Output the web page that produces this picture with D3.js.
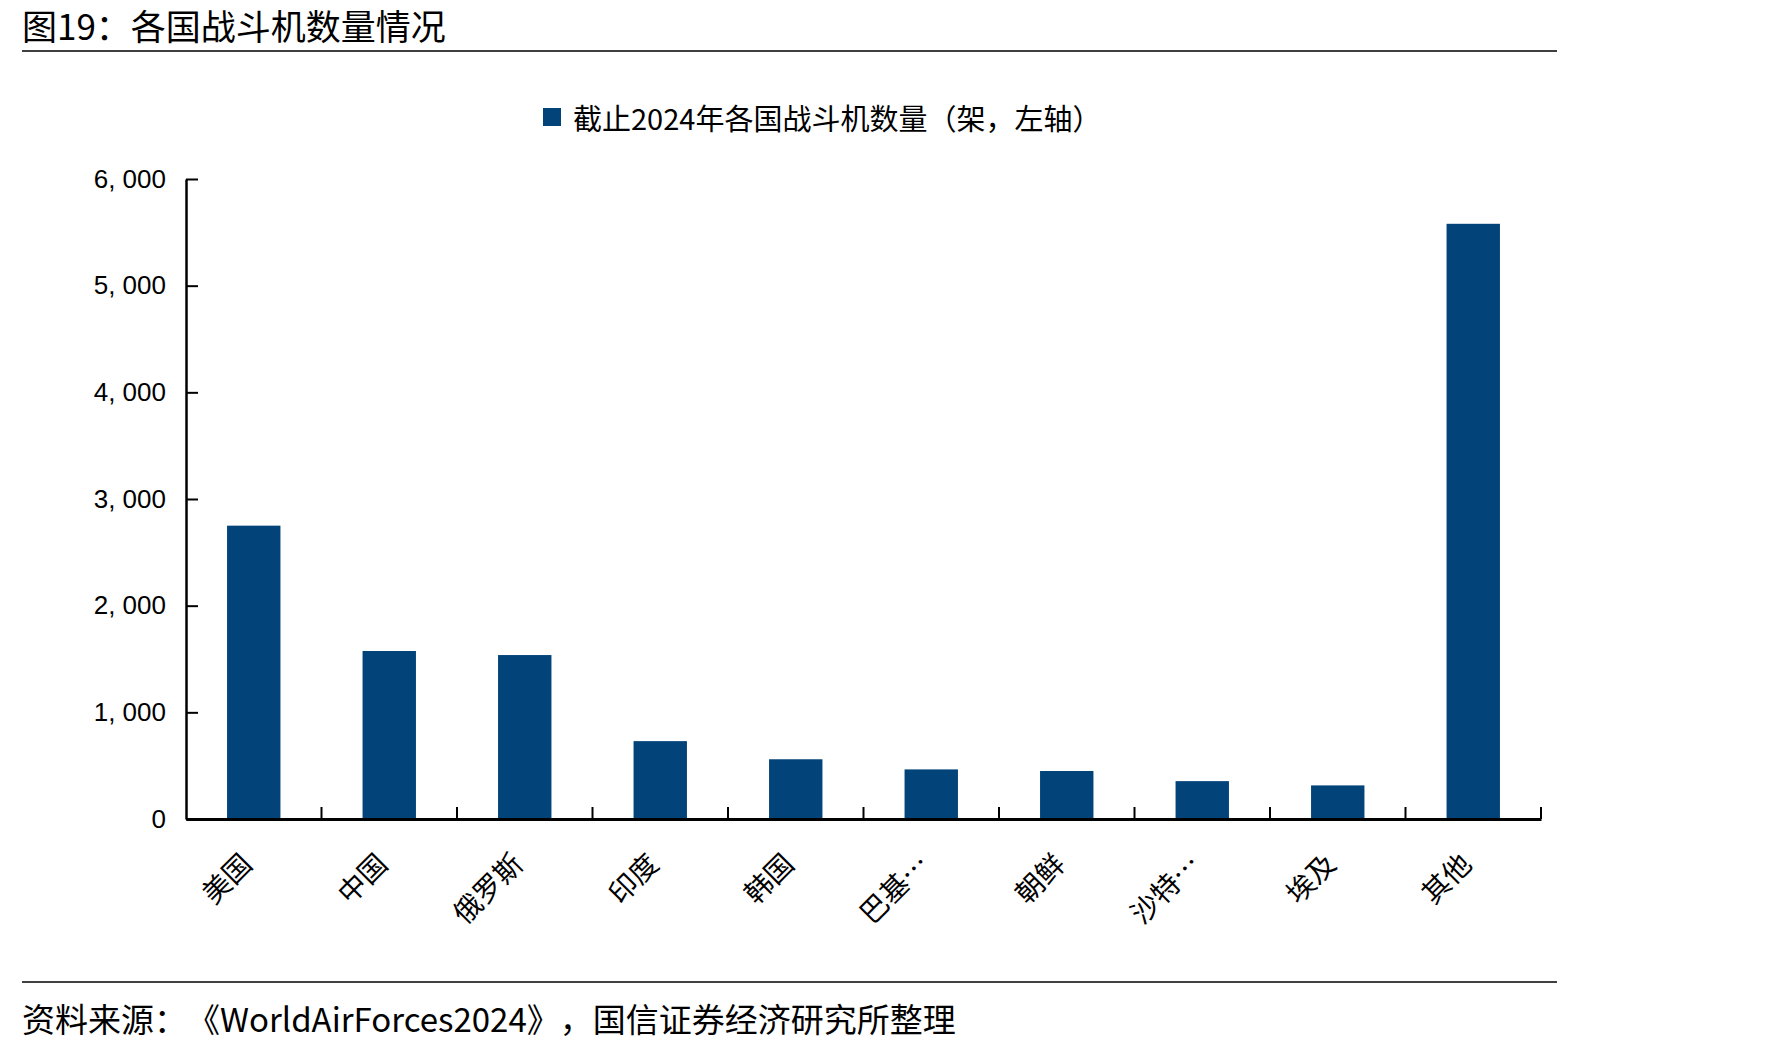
<!DOCTYPE html>
<html>
<head>
<meta charset="utf-8">
<script src="https://cdn.jsdelivr.net/npm/d3@7"></script>
<style>
    html, body { margin: 0; padding: 0; background: #fff; }
    text { font-family: "Noto Sans CJK SC", "Noto Sans", sans-serif; fill: #000; text-spacing-trim: space-all; }
    .y-axis text { font-family: "Liberation Sans", Arial, sans-serif; }
</style>
</head>
<body>
<div id="chart"></div>
<script>
// data
const categories = ["美国", "中国", "俄罗斯", "印度", "韩国", "巴基…", "朝鲜", "沙特…", "埃及", "其他"]
const fighters = [2750, 1575, 1537, 730, 560, 465, 450, 355, 315, 5580]
const yTicks = [0, 1000, 2000, 3000, 4000, 5000, 6000]

const titleText = "图19：各国战斗机数量情况"
const legendText = "截止2024年各国战斗机数量（架，左轴）"
const sourceText = "资料来源：《WorldAirForces2024》，国信证券经济研究所整理"

const config = {
    width: 1771,
    height: 1049,
    left: 186,
    right: 1541,
    top: 179,
    bottom: 819,
    barColor: "#02437a",
}

const xScale = d3.scaleBand()
    .domain(categories)
    .range([config.left, config.right])
    .paddingInner(0.606)
    .paddingOuter(0.303)

const yScale = d3.scaleLinear()
    .domain([0, 6000])
    .range([config.bottom, config.top])

const svg = d3.create("svg")
    .attr("width", config.width)
    .attr("height", config.height)
    .attr("viewBox", [0, 0, config.width, config.height])

// header + footer rules
svg.append("text")
    .attr("x", 22)
    .attr("y", 24)
    .attr("dominant-baseline", "central")
    .style("font-size", "35px")
    .text(titleText)

svg.append("line")
    .attr("x1", 22).attr("x2", 1557)
    .attr("y1", 51).attr("y2", 51)
    .attr("stroke", "#000")
    .attr("stroke-width", 1.5)

svg.append("line")
    .attr("x1", 22).attr("x2", 1557)
    .attr("y1", 982).attr("y2", 982)
    .attr("stroke", "#000")
    .attr("stroke-width", 1.5)

svg.append("text")
    .attr("x", 22)
    .attr("y", 1018)
    .attr("dominant-baseline", "central")
    .style("font-size", "33px")
    .text(sourceText)

// legend
const legend = svg.append("g").attr("transform", "translate(543,108)")
legend.append("rect")
    .attr("width", 18).attr("height", 18)
    .attr("fill", config.barColor)
legend.append("text")
    .attr("x", 30)
    .attr("y", 9)
    .attr("dominant-baseline", "central")
    .style("font-size", "29px")
    .text(legendText)

// bars
svg.append("g")
    .selectAll("rect")
    .data(fighters)
    .join("rect")
    .attr("x", (d, i) => xScale(categories[i]))
    .attr("width", xScale.bandwidth())
    .attr("y", d => yScale(d))
    .attr("height", d => yScale(0) - yScale(d))
    .attr("fill", config.barColor)

// y axis, ticks point inward
const yAxis = svg.append("g")
    .classed("y-axis", true)
    .attr("transform", `translate(${config.left},0)`)
    .call(d3.axisLeft(yScale)
        .tickValues(yTicks)
        .tickSizeInner(-12)
        .tickSizeOuter(0)
        .tickPadding(20)
        .tickFormat(d => d3.format(",")(d).replace(",", ", ")))
yAxis.select(".domain").attr("stroke-width", 2.5)
yAxis.selectAll(".tick line").attr("stroke-width", 2)
yAxis.selectAll("text").style("font-size", "26px")

// x axis, labels rotated
const xAxis = svg.append("g")
    .classed("x-axis", true)
    .attr("transform", `translate(0,${config.bottom})`)
    .call(d3.axisBottom(xScale).tickSize(0))
xAxis.select(".domain").attr("stroke-width", 3)
xAxis.selectAll("text")
    .attr("y", 0)
    .attr("dy", 0)
    .attr("transform", "translate(0,47) rotate(-45)")
    .style("text-anchor", "end")
    .style("font-size", "28px")

// boundary ticks between categories
const step = xScale.step()
xAxis.append("g")
    .selectAll("line")
    .data(categories)
    .join("line")
    .attr("x1", d => xScale(d) + xScale.bandwidth() + (step - xScale.bandwidth()) / 2)
    .attr("x2", d => xScale(d) + xScale.bandwidth() + (step - xScale.bandwidth()) / 2)
    .attr("y1", 0)
    .attr("y2", -12)
    .attr("stroke", "#000")
    .attr("stroke-width", 2)

document.getElementById("chart").appendChild(svg.node())
</script>
</body>
</html>
